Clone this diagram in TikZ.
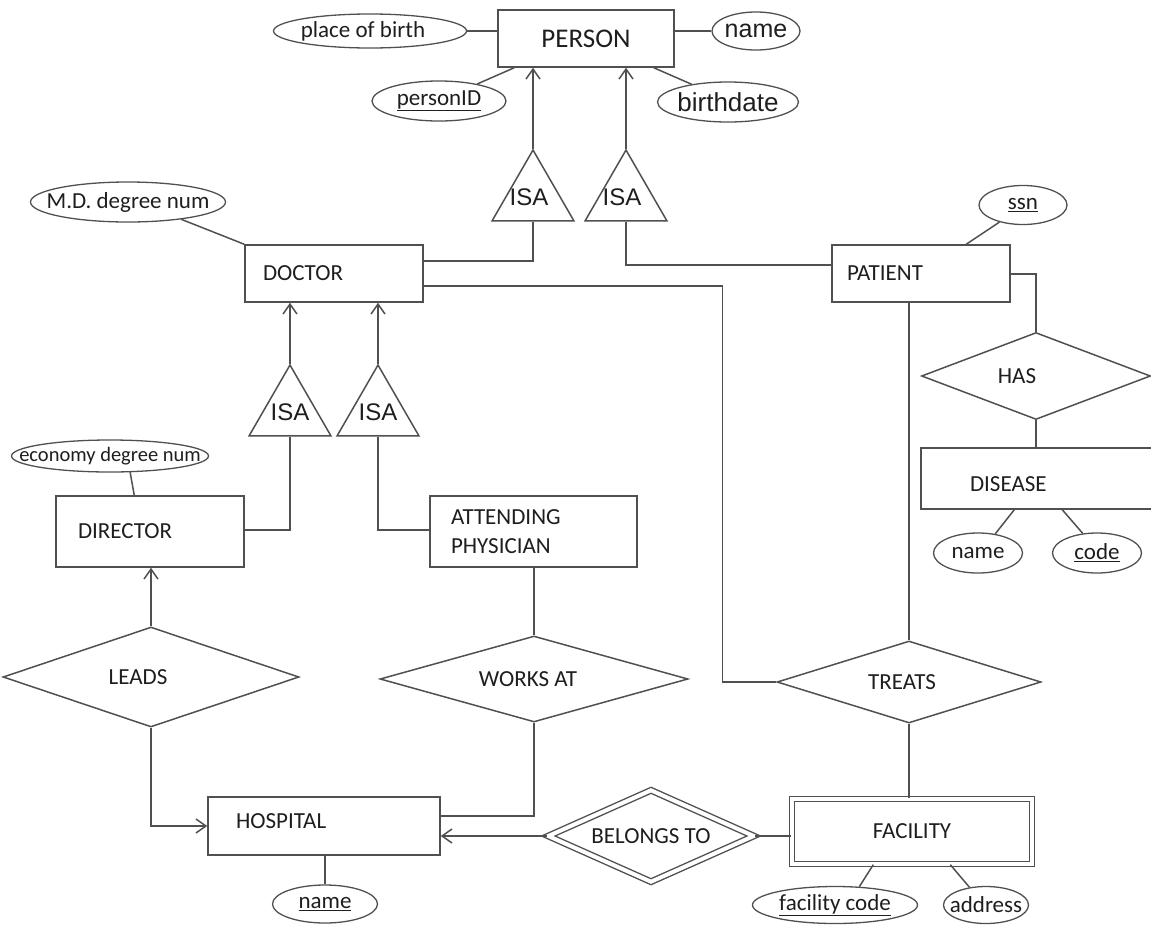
\documentclass[tikz,border=0pt]{standalone}
\usepackage{fontspec}
\setmainfont{Carlito}
\newfontfamily\arialf{Liberation Sans}
\usetikzlibrary{shapes.geometric,arrows.meta,calc}
\definecolor{lc}{HTML}{505050}
\definecolor{tc}{HTML}{1E1E1E}
\newcommand\erfont{\fontsize{23}{29}\selectfont}
\newcommand\isafont{\arialf\fontsize{24}{28}\selectfont}
\newcommand\zb[1]{\makebox[0pt]{#1}}
\begin{document}
\begin{tikzpicture}[x=1pt,y=-1pt,
  ln/.style={draw=lc, line width=1.5pt},
  arr/.style={draw=lc, line width=1.5pt, -{Straight Barb[length=10pt,width=14pt]}},
  ent/.style={draw=lc, line width=1.5pt, rectangle, inner ysep=0pt, text=tc, font=\erfont},
  lbox/.style n args={3}{ent, minimum width=#1, minimum height=#2, inner xsep=#3, text width=#1-2*#3, align=left},
  attr/.style={draw=lc, line width=1.3pt, ellipse, inner sep=0pt, text=tc, font=\erfont},
  rel/.style={draw=lc, line width=1.5pt, diamond, inner sep=0pt, text=tc, font=\erfont},
  isa/.style={draw=lc, line width=1.5pt, regular polygon, regular polygon sides=3, inner sep=0pt, minimum size=94.6pt, text=tc, font=\isafont}
]
\useasboundingbox (0,0) rectangle (1151,924);

% PERSON and attributes
\node[ent, minimum width=176pt, minimum height=57pt, font=\fontsize{27}{30}\selectfont] (person) at (586,38.5) {PERSON};
\node[attr, minimum width=193pt, minimum height=34pt] (pob) at (370,31) {\zb{place of birth\hspace*{14pt}}};
\node[attr, minimum width=88pt, minimum height=38pt, font=\arialf\fontsize{25}{30}\selectfont] (pname) at (756,31) {\zb{name}};
\node[attr, minimum width=134pt, minimum height=40pt] (pid) at (439,101) {\zb{\underline{personID}}};
\node[attr, minimum width=141pt, minimum height=40pt, font=\arialf\fontsize{26}{30}\selectfont] (bdate) at (728,102) {\zb{birthdate}};

% ISA triangles
\node[isa] (isa1) at (533,197.3) {\zb{ISA\hspace*{8pt}}};
\node[isa] (isa2) at (626,197.3) {\zb{ISA\hspace*{8pt}}};
\node[isa] (isa3) at (290,412.3) {\zb{ISA}};
\node[isa] (isa4) at (378,412.3) {\zb{ISA}};

% DOCTOR, PATIENT
\node[attr, minimum width=195pt, minimum height=40pt] (md) at (128,202) {\zb{M.D. degree num}};
\node[lbox={178pt}{57pt}{18pt}] (doctor) at (334,273.5) {DOCTOR};
\node[lbox={178pt}{57pt}{15pt}] (patient) at (921,273.5) {PATIENT};
\node[attr, minimum width=88pt, minimum height=39pt] (ssn) at (1023,205) {\zb{\underline{ssn}}};

% DIRECTOR, ATTENDING
\node[attr, minimum width=197pt, minimum height=32pt, font=\fontsize{20.5}{22}\selectfont] (econ) at (110,456) {\zb{economy degree num}};
\node[lbox={188pt}{71pt}{22pt}] (director) at (150,531.5) {DIRECTOR};
\node[lbox={207pt}{71pt}{21pt}] (attending) at (533.5,531.5) {ATTENDING\\PHYSICIAN};

% HAS, DISEASE
\node[rel, minimum width=229pt, minimum height=87pt] (has) at (1036,376) {\zb{HAS\hspace*{38pt}}};
\node[lbox={232pt}{61pt}{49pt}, text height=26pt, text depth=0pt] (disease) at (1037,478.5) {DISEASE};
\node[attr, minimum width=89pt, minimum height=40pt] (dname) at (978,553) {\zb{name}};
\node[attr, minimum width=89pt, minimum height=40pt] (dcode) at (1097,553) {\zb{\underline{code}}};

% relationships
\node[rel, minimum width=296pt, minimum height=100pt] (leads) at (151,677) {\zb{LEADS\hspace*{26pt}}};
\node[rel, minimum width=308pt, minimum height=86pt] (works) at (534,679) {\zb{WORKS AT\hspace*{12pt}}};
\node[rel, minimum width=264pt, minimum height=82pt] (treats) at (909,682) {\zb{TREATS\hspace*{14pt}}};

% HOSPITAL, BELONGS TO, FACILITY
\node[lbox={232pt}{58pt}{28pt}, text height=14pt, text depth=10pt] (hospital) at (324,826) {HOSPITAL};
\node[rel, double, double distance=4pt, line width=1.4pt, minimum width=206pt, minimum height=92pt] (belongs) at (651,836) {\zb{BELONGS TO}};
\node[ent, double, double distance=4pt, line width=1.4pt, minimum width=240pt, minimum height=65pt] (facility) at (912,831.5) {FACILITY};
\node[attr, minimum width=105pt, minimum height=38pt] (hname) at (325,904) {\zb{\underline{name}}};
\node[attr, minimum width=165pt, minimum height=37pt] (fcode) at (835,905) {\zb{\underline{facility code}}};
\node[attr, minimum width=85pt, minimum height=37pt] (addr) at (986,905) {\zb{address}};

% attribute links
\draw[ln] (pob.east) -- (pob.east -| person.west);
\draw[ln] (pname.west) -- (pname.west -| person.east);
\draw[ln] (pid.24) -- ($(person.south west)+(17,0)$);
\draw[ln] (bdate.154) -- ($(person.south east)+(-21,0)$);
\draw[ln] (md.-18) -- (doctor.north west);
\draw[ln] (ssn.216) -- ($(patient.north west)+(135,0)$);
\draw[ln] (econ.-39) -- ($(director.north west)+(79,0)$);
\draw[ln] (dname.48) -- ($(disease.south west)+(94,0)$);
\draw[ln] (dcode.126) -- ($(disease.south west)+(142,0)$);
\draw[ln] (hname.north) -- (hname.north |- hospital.south);
\draw[ln] (fcode.37) -- ($(facility.south west)+(82,0)$);
\draw[ln] (addr.133) -- ($(facility.south west)+(159,0)$);

% ISA links
\draw[arr] (isa1.north) -- (isa1.north |- person.south);
\draw[arr] (isa2.north) -- (isa2.north |- person.south);
\draw[ln] (isa1.south) |- ($(doctor.east)+(0,-12.5)$);
\draw[ln] (isa2.south) |- ($(patient.west)+(0,-8.5)$);
\draw[arr] (isa3.north) -- (isa3.north |- doctor.south);
\draw[arr] (isa4.north) -- (isa4.north |- doctor.south);
\draw[ln] (isa3.south) |- ($(director.east)+(0,-1.5)$);
\draw[ln] (isa4.south) |- ($(attending.west)+(0,-1.5)$);

% relationship links
\draw[arr] (leads.north) -- (leads.north |- director.south);
\draw[arr] (leads.south) |- (hospital.west);
\draw[ln] (works.north) -- (works.north |- attending.south);
\draw[ln] (works.south) |- ($(hospital.east)+(0,-10)$);
\draw[ln] ($(doctor.east)+(0,12.5)$) -| ($(treats.west)+(-54,0)$) -- (treats.west);
\draw[ln] (treats.north) -- (treats.north |- patient.south);
\draw[ln] (treats.south) -- (treats.south |- facility.north);
\draw[ln] ($(patient.east)+(0,0.5)$) -| (has.north);
\draw[ln] (has.south) -- (has.south |- disease.north);
\draw[arr] (belongs.west) -- (belongs.west -| hospital.east);
\draw[ln] (belongs.east) -- (belongs.east -| facility.west);
\end{tikzpicture}
\end{document}
